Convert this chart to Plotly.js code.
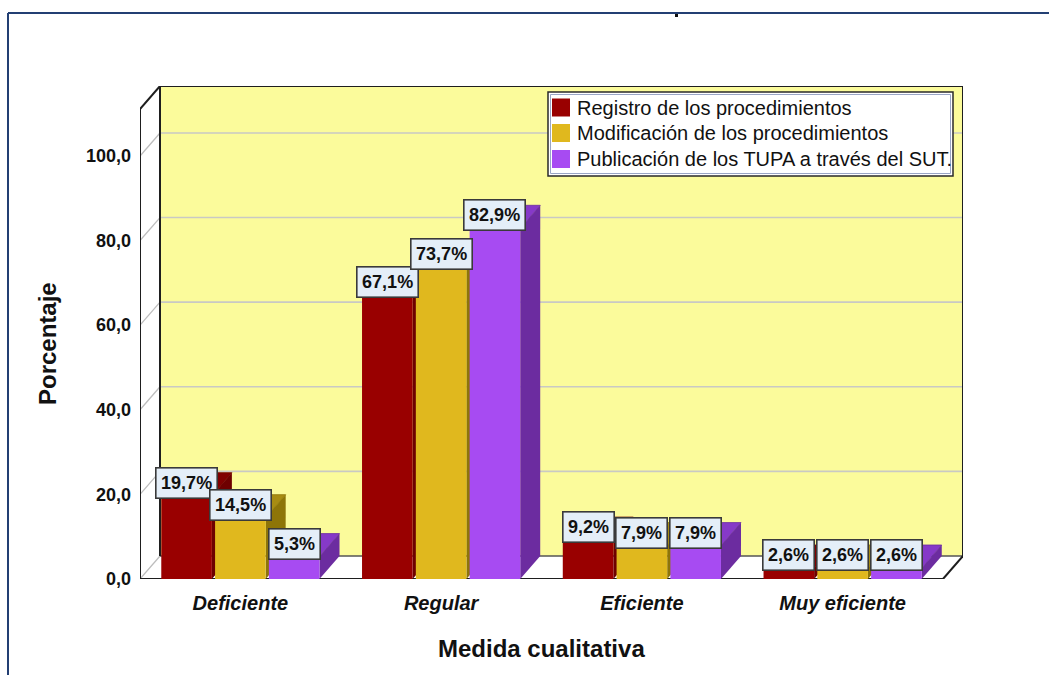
<!DOCTYPE html>
<html>
<head>
<meta charset="utf-8">
<script src="https://cdn.plot.ly/plotly-3.0.1.min.js"></script>
<style>html,body{margin:0;padding:0;background:#fff;}#chart{width:1049px;height:675px;}</style>
</head>
<body>
<div id="chart"></div>
<script>
// ---- data ----
const categories = ['Deficiente', 'Regular', 'Eficiente', 'Muy eficiente'];
const seriesNames = ['Registro de los procedimientos', 'Modificación de los procedimientos', 'Publicación de los TUPA a través del SUT.'];
const registro = [19.7, 67.1, 9.2, 2.6];
const modificacion = [14.5, 73.7, 7.9, 2.6];
const publicacion = [5.3, 82.9, 7.9, 2.6];
const yTicks = [0, 20, 40, 60, 80, 100];
const xTitle = 'Medida cualitativa';
const yTitle = 'Porcentaje';

// ---- styles / geometry ----
const FONT = 'Liberation Sans, Arial, sans-serif';
const W = 1049, H = 675;
const M = {l: 140, r: 86, t: 86, b: 96};
const plotW = W - M.l - M.r, plotH = H - M.t - M.b;
const DX_PX = 20, DY_PX = 23;           // 3D depth offset in pixels
const FRONT_TOP = 111.1;                 // top of front frame in value units
const catPx = (plotW - DX_PX) / categories.length;
const DXu = DX_PX / catPx;
const ppu = (plotH - DY_PX) / FRONT_TOP;
const DYu = DY_PX / ppu;
const X0 = -0.5, X1 = categories.length - 0.5;

const frontColors = ['#990000', '#E0B81E', '#A74BF2'];
const sideColors = ['#6E0000', '#8E7508', '#6C2CA0'];
const topColors = ['#800000', '#A88C12', '#8639C8'];
const barWidth = 0.252;
const barOffsets = [-0.394, -0.126, 0.142];

const series = [registro, modificacion, publicacion];
const xs = categories.map((c, i) => i);
const fmt = v => v.toFixed(1).replace('.', ',');

const traces = series.map((vals, s) => ({
  type: 'bar',
  name: seriesNames[s],
  x: xs,
  y: vals,
  width: barWidth,
  offset: barOffsets[s],
  marker: {color: frontColors[s], line: {width: 0}},
  hoverinfo: 'skip',
  showlegend: false
}));

const shapes = [];
const P = (pts) => 'M' + pts.map(p => p[0] + ',' + p[1]).join(' L') + ' Z';
const dataShape = (o) => Object.assign({xref: 'x', yref: 'y', layer: 'below'}, o);
const line = (x0, y0, x1, y1, color, width) => dataShape({type: 'line', x0, y0, x1, y1, line: {color, width}});

// back wall
shapes.push(dataShape({type: 'rect', x0: X0 + DXu, x1: X1 + DXu, y0: DYu, y1: FRONT_TOP + DYu,
  fillcolor: '#FBFB9B', line: {width: 0}}));
// left wall
shapes.push(dataShape({type: 'path', path: P([[X0, 0], [X0, FRONT_TOP], [X0 + DXu, FRONT_TOP + DYu], [X0 + DXu, DYu]]),
  fillcolor: '#FFFFFF', line: {width: 0}}));
// floor
shapes.push(dataShape({type: 'path', path: P([[X0, 0], [X1, 0], [X1 + DXu, DYu], [X0 + DXu, DYu]]),
  fillcolor: '#FFFFFF', line: {width: 0}}));
// gridlines on back wall + left wall
yTicks.forEach(v => {
  if (v > 0) shapes.push(line(X0 + DXu, v + DYu, X1 + DXu, v + DYu, '#C9C9C4', 1.6));
  shapes.push(line(X0, v, X0 + DXu, v + DYu, '#BDBDBD', 1.3));
});
// frame edges
const EDGE = '#1e1e1e';
shapes.push(line(X0 + DXu, DYu, X1 + DXu, DYu, '#555555', 1.5));
shapes.push(line(X0, 0, X0, FRONT_TOP, EDGE, 2));
shapes.push(line(X0, FRONT_TOP, X0 + DXu, FRONT_TOP + DYu, EDGE, 2));
shapes.push(line(X0 + DXu, FRONT_TOP + DYu, X1 + DXu, FRONT_TOP + DYu, EDGE, 2));
shapes.push(line(X0 + DXu, DYu, X0 + DXu, FRONT_TOP + DYu, EDGE, 2));
shapes.push(line(X1 + DXu, DYu, X1 + DXu, FRONT_TOP + DYu, EDGE, 2));
shapes.push(line(X0, 0, X1, 0, EDGE, 2));
shapes.push(line(X1, 0, X1 + DXu, DYu, EDGE, 2));

// 3D faces for bars (left to right so nearer faces overlay)
const annotations = [];
categories.forEach((c, ci) => {
  series.forEach((vals, s) => {
    const v = vals[ci];
    const xl = ci + barOffsets[s];
    const xr = xl + barWidth;
    shapes.push(dataShape({type: 'path', path: P([[xr, 0], [xr + DXu, DYu], [xr + DXu, v + DYu], [xr, v]]),
      fillcolor: sideColors[s], line: {width: 0}}));
    shapes.push(dataShape({type: 'path', path: P([[xl, v], [xl + DXu, v + DYu], [xr + DXu, v + DYu], [xr, v]]),
      fillcolor: topColors[s], line: {color: sideColors[s], width: 0.8}}));
    annotations.push({
      xref: 'x', yref: 'y', x: xl + barWidth / 2, y: v, yanchor: 'bottom', xanchor: 'center', yshift: -3,
      text: fmt(v) + '%', showarrow: false,
      font: {family: FONT, size: 18, color: '#111', weight: 'bold'},
      bgcolor: '#E4EEF8', bordercolor: '#3a3a3a', borderwidth: 1.6, borderpad: 4.5
    });
  });
});

// axis titles
annotations.push({xref: 'x', yref: 'paper', x: (X0 + X1) / 2, y: 0, yshift: -69, yanchor: 'middle',
  text: xTitle, showarrow: false, font: {family: FONT, size: 24, color: '#111', weight: 'bold'}});
annotations.push({xref: 'paper', yref: 'y', x: 0, xshift: -93, y: FRONT_TOP / 2, xanchor: 'center', yanchor: 'middle',
  textangle: -90, text: yTitle, showarrow: false, font: {family: FONT, size: 24, color: '#111', weight: 'bold'}});

// paper pixel helpers
const px = x => (x - M.l) / plotW;
const py = y => (H - M.b - y) / plotH;
const paperRect = (x0, y0, x1, y1, o) => Object.assign({type: 'rect', xref: 'paper', yref: 'paper',
  x0: px(x0), x1: px(x1), y0: py(y1), y1: py(y0), layer: 'above'}, o);

// legend (drawn box, swatches and texts)
const LEG = {x0: 548, y0: 92, x1: 953, y1: 176, rowY: [107.5, 133, 159], swX: 552, swW: 18, swH: 18, textX: 575};
shapes.push(paperRect(LEG.x0, LEG.y0, LEG.x1, LEG.y1, {fillcolor: '#FFFFFF', line: {color: '#2a2a2a', width: 1.5}}));
shapes.push(paperRect(LEG.x0 + 2.5, LEG.y0 + 2.5, LEG.x1 - 2.5, LEG.y1 - 2.5, {fillcolor: 'rgba(0,0,0,0)', line: {color: '#9AA6C6', width: 1}}));
seriesNames.forEach((name, s) => {
  const cy = LEG.rowY[s];
  shapes.push(paperRect(LEG.swX, cy - LEG.swH / 2, LEG.swX + LEG.swW, cy + LEG.swH / 2, {fillcolor: frontColors[s], line: {width: 0}}));
  annotations.push({xref: 'paper', yref: 'paper', x: px(LEG.textX), y: py(cy), xanchor: 'left', yanchor: 'middle',
    text: name, showarrow: false, font: {family: FONT, size: 20, color: '#111'}});
});

// outer frame (page border)
shapes.push({type: 'line', xref: 'paper', yref: 'paper', x0: px(8), y0: py(13), x1: px(W), y1: py(13), line: {color: '#233F73', width: 2}, layer: 'above'});
shapes.push({type: 'line', xref: 'paper', yref: 'paper', x0: px(8), y0: py(13), x1: px(8), y1: py(H), line: {color: '#233F73', width: 2}, layer: 'above'});
shapes.push(paperRect(675, 14, 678, 17, {fillcolor: '#111', line: {width: 0}}));

const layout = {
  width: W, height: H,
  margin: {l: M.l, r: M.r, t: M.t, b: M.b, pad: 0},
  paper_bgcolor: '#FFFFFF',
  plot_bgcolor: 'rgba(0,0,0,0)',
  showlegend: false,
  xaxis: {
    range: [X0, X1 + DXu], tickvals: xs, ticktext: categories,
    showgrid: false, zeroline: false, showline: false, ticks: '', fixedrange: true, ticklabelstandoff: 10,
    tickfont: {family: FONT, size: 20, color: '#111', weight: 'bold', style: 'italic'}
  },
  yaxis: {
    range: [0, FRONT_TOP + DYu], tickvals: yTicks, ticktext: yTicks.map(fmt),
    showgrid: false, zeroline: false, showline: false, ticks: '', fixedrange: true, ticklabelstandoff: 8,
    tickfont: {family: FONT, size: 18, color: '#111', weight: 'bold'}
  },
  shapes: shapes,
  annotations: annotations
};

Plotly.newPlot('chart', traces, layout, {displayModeBar: false, staticPlot: true});
</script>
</body>
</html>
